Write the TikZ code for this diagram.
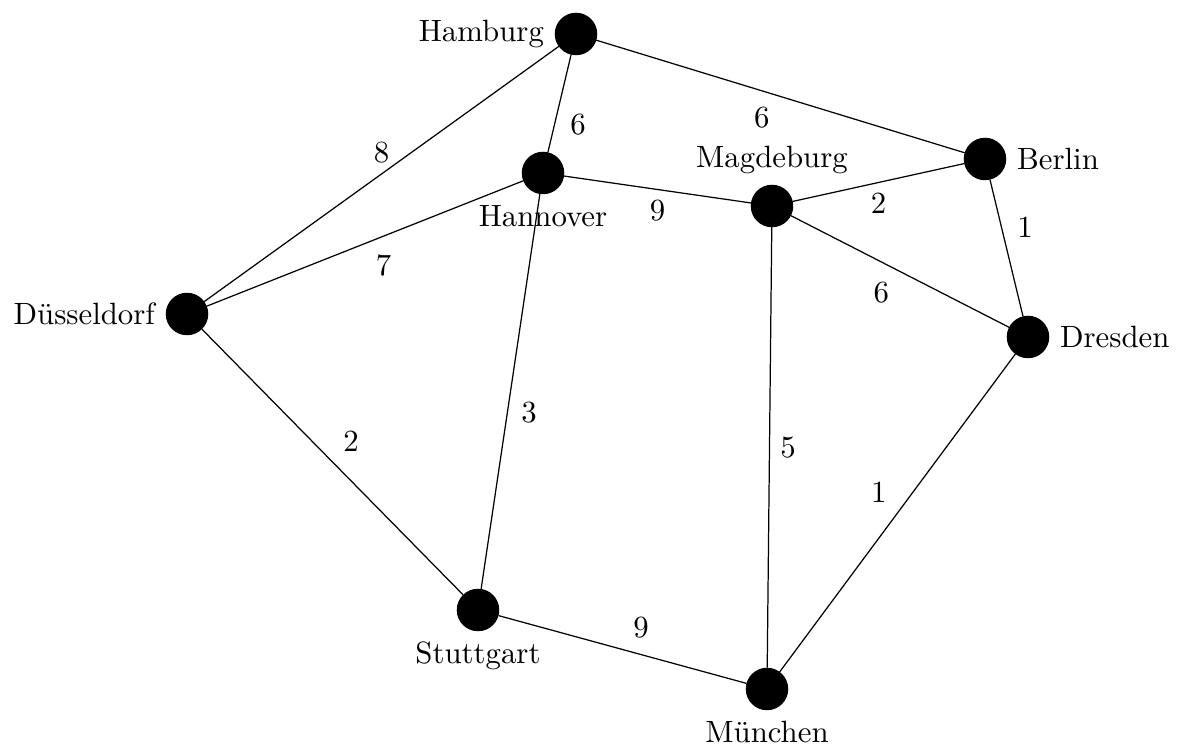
\documentclass[tikz,border=0pt]{standalone}
\usepackage{fontspec}
\begin{document}
\begin{tikzpicture}[x=0.3247pt, y=-0.3247pt,
  city/.style={circle, draw, fill=black, inner sep=0pt, minimum size=13.4pt},
  road/.style={line width=0.4pt},
  every label/.style={font=\normalsize}]
\useasboundingbox (0,0) rectangle (1178,745);

% cities
\node[city, label=left:Hamburg]    (ham) at (576,34)  {};
\node[city, label=below:Hannover]  (han) at (543,173) {};
\node[city, label=above:Magdeburg] (mag) at (772,206) {};
\node[city, label=right:Berlin]    (ber) at (985,159) {};
\node[city, label=left:Düsseldorf] (dus) at (187,314) {};
\node[city, label=right:Dresden]   (dre) at (1028,337) {};
\node[city, label=below:Stuttgart] (stu) at (478,610) {};
\node[city, label=below:München]   (mun) at (767,689) {};

% roads with distances
\draw[road] (ham) -- node[midway, below left]  (w1)  {6} (ber);
\draw[road] (ham) -- node[midway, below right] (w2)  {6} (han);
\draw[road] (ham) -- node[midway, above]       (w3)  {8} (dus);
\draw[road] (han) -- node[midway, below right] (w4)  {7} (dus);
\draw[road] (han) -- node[midway, below]       (w5)  {9} (mag);
\draw[road] (han) -- node[midway, below right] (w6)  {3} (stu);
\draw[road] (mag) -- node[midway, below]       (w7)  {2} (ber);
\draw[road] (ber) -- node[midway, above right] (w8)  {1} (dre);
\draw[road] (mag) -- node[midway, below left]  (w9)  {6} (dre);
\draw[road] (mag) -- node[midway, right]       (w10) {5} (mun);
\draw[road] (dre) -- node[midway, above left]  (w11) {1} (mun);
\draw[road] (dus) -- node[midway, above right] (w12) {2} (stu);
\draw[road] (stu) -- node[midway, above right] (w13) {9} (mun);
\end{tikzpicture}
\end{document}
